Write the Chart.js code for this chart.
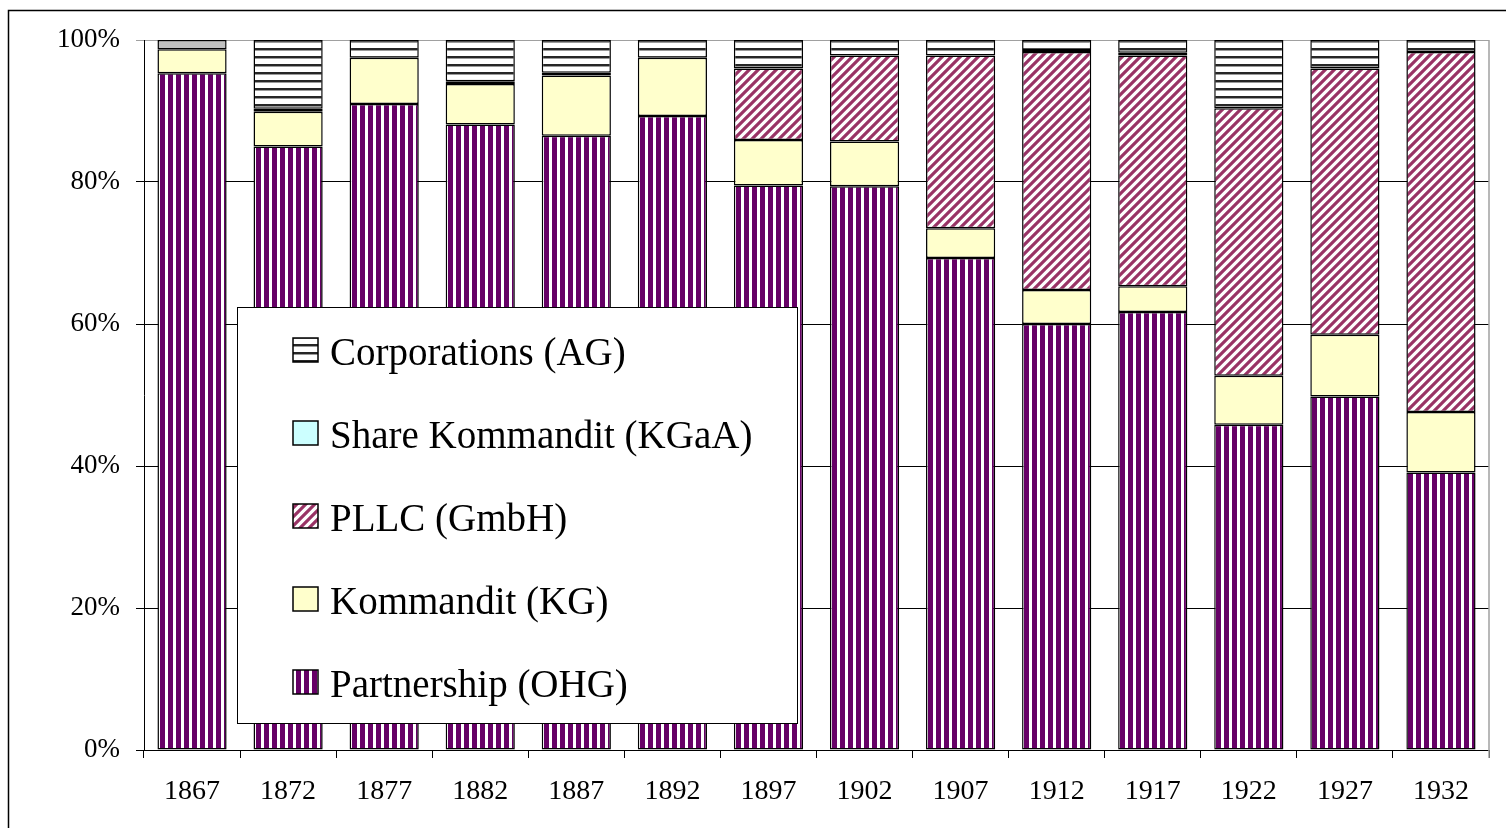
<!DOCTYPE html>
<html>
<head>
<meta charset="utf-8">
<script src="https://cdn.jsdelivr.net/npm/chart.js@4/dist/chart.umd.min.js"></script>
<style>
  html, body { margin: 0; padding: 0; background: #fff; }
  #chart { display: block; }
</style>
</head>
<body>
<canvas id="chart" width="1506" height="828"></canvas>
<script>
// share of firms by legal form, percent of total per year
const years = ['1867', '1872', '1877', '1882', '1887', '1892', '1897', '1902', '1907', '1912', '1917', '1922', '1927', '1932'];
const partnership = [95.3, 85.0, 91.0, 88.1, 86.5, 89.3, 79.5, 79.4, 69.3, 60.0, 61.7, 45.8, 49.8, 39.1];
const kommandit = [3.4, 4.9, 6.5, 5.7, 8.5, 8.2, 6.4, 6.3, 4.2, 4.8, 3.6, 6.9, 8.7, 8.5];
const gmbh = [0, 0, 0, 0, 0, 0, 10.1, 12.1, 24.3, 33.5, 32.5, 37.7, 37.5, 50.7];
const shareKommandit = [0, 0.4, 0, 0.4, 0.4, 0, 0, 0, 0, 0.3, 0.4, 0, 0, 0];
const corporations = [1.3, 9.7, 2.5, 5.8, 4.6, 2.5, 4.0, 2.2, 2.2, 1.4, 1.8, 9.6, 4.0, 1.7];
const yTicks = [0, 20, 40, 60, 80, 100];

const FONT = '"Liberation Serif", "Times New Roman", serif';

const makePattern = (kind) => {
  const c = document.createElement('canvas');
  const g = c.getContext('2d');
  if (kind === 'vertical') {
    c.width = 8; c.height = 8;
    g.fillStyle = '#fff'; g.fillRect(0, 0, 8, 8);
    g.fillStyle = '#660066'; g.fillRect(0, 0, 5, 8);
  } else if (kind === 'diagonal') {
    c.width = 9; c.height = 9;
    g.fillStyle = '#fff'; g.fillRect(0, 0, 9, 9);
    g.strokeStyle = '#993366'; g.lineWidth = 3.2;
    g.beginPath();
    g.moveTo(-2, 11); g.lineTo(11, -2);
    g.moveTo(-2, 2); g.lineTo(2, -2);
    g.moveTo(7, 11); g.lineTo(11, 7);
    g.stroke();
  } else {
    c.width = 8; c.height = 8;
    g.fillStyle = '#fff'; g.fillRect(0, 0, 8, 8);
    g.fillStyle = '#262626'; g.fillRect(0, 0, 8, 2);
    g.fillStyle = '#9a9a9a'; g.fillRect(0, 2, 8, 1);
  }
  return g.createPattern(c, 'repeat');
};

const ohgFill = makePattern('vertical');
const gmbhFill = makePattern('diagonal');
const agFill = makePattern('horizontal');
const agColors = years.map((_, i) => (i === 0 ? '#c0c0c0' : agFill));

// no outline for empty segments, otherwise they show up as black lines
const barStyle = {
  borderColor: '#000',
  borderWidth: (c) => (c.raw ? 1.5 : 0),
  borderSkipped: false,
  barPercentage: 0.72,
  categoryPercentage: 1,
};

// legend box drawn over the plot like the original
const boxLegend = {
  id: 'boxLegend',
  beforeDraw(chart) {
    const { ctx } = chart;
    ctx.save();
    ctx.strokeStyle = '#000';
    ctx.lineWidth = 1.5;
    ctx.beginPath();
    ctx.moveTo(8.5, 828); ctx.lineTo(8.5, 10.5); ctx.lineTo(1506, 10.5);
    ctx.stroke();
    ctx.restore();
  },
  afterDraw(chart) {
    const { ctx, chartArea } = chart;
    ctx.save();
    ctx.strokeStyle = '#a0a0a0';
    ctx.lineWidth = 1.5;
    ctx.beginPath();
    ctx.moveTo(chartArea.right, chartArea.top);
    ctx.lineTo(chartArea.right, chartArea.bottom + 8);
    ctx.stroke();

    const x = 237, y = 307, w = 560, h = 416;
    ctx.fillStyle = '#fff';
    ctx.fillRect(x, y, w, h);
    ctx.strokeStyle = '#000';
    ctx.lineWidth = 1;
    ctx.strokeRect(x + 0.5, y + 0.5, w, h);

    const items = chart.data.datasets.slice().reverse();
    ctx.font = `39px ${FONT}`;
    ctx.textBaseline = 'alphabetic';
    items.forEach((ds, i) => {
      const cy = 350 + i * 83;
      ctx.fillStyle = ds.legendFill || ds.backgroundColor;
      ctx.fillRect(293, cy - 12, 25, 24);
      ctx.lineWidth = 1.5;
      ctx.strokeStyle = '#000';
      ctx.strokeRect(293, cy - 12, 25, 24);
      ctx.fillStyle = '#000';
      ctx.fillText(ds.label, 330, cy + 15);
    });
    ctx.restore();
  },
};

new Chart(document.getElementById('chart'), {
  type: 'bar',
  data: {
    labels: years,
    datasets: [
      { label: 'Partnership (OHG)', data: partnership, backgroundColor: ohgFill, ...barStyle },
      { label: 'Kommandit (KG)', data: kommandit, backgroundColor: '#ffffcc', ...barStyle },
      { label: 'PLLC (GmbH)', data: gmbh, backgroundColor: gmbhFill, ...barStyle },
      { label: 'Share Kommandit (KGaA)', data: shareKommandit, backgroundColor: '#ccffff', ...barStyle },
      { label: 'Corporations (AG)', data: corporations, backgroundColor: agColors, legendFill: agFill, ...barStyle },
    ],
  },
  options: {
    responsive: false,
    animation: false,
    layout: { padding: { top: 40, right: 17, left: 0, bottom: 0 } },
    plugins: { legend: { display: false }, tooltip: { enabled: false } },
    scales: {
      x: {
        stacked: true,
        afterFit: (s) => { s.height = 78; },
        grid: { display: true, drawOnChartArea: false, offset: true, tickLength: 8, color: '#000', lineWidth: 1 },
        border: { color: '#000', width: 1 },
        ticks: { color: '#000', font: { family: FONT, size: 28 }, padding: 17, maxRotation: 0 },
      },
      y: {
        stacked: true,
        min: 0,
        max: 100,
        afterFit: (s) => { s.width = 144; },
        afterBuildTicks: (s) => { s.ticks = yTicks.map((v) => ({ value: v })); },
        grid: { color: (c) => (c.tick && c.tick.value === 100 ? '#a0a0a0' : '#000'), lineWidth: 1, tickLength: 8 },
        border: { color: '#000', width: 1 },
        ticks: { color: '#000', font: { family: FONT, size: 27 }, padding: 16, callback: (v) => `${v}%` },
      },
    },
  },
  plugins: [boxLegend],
});
</script>
</body>
</html>
